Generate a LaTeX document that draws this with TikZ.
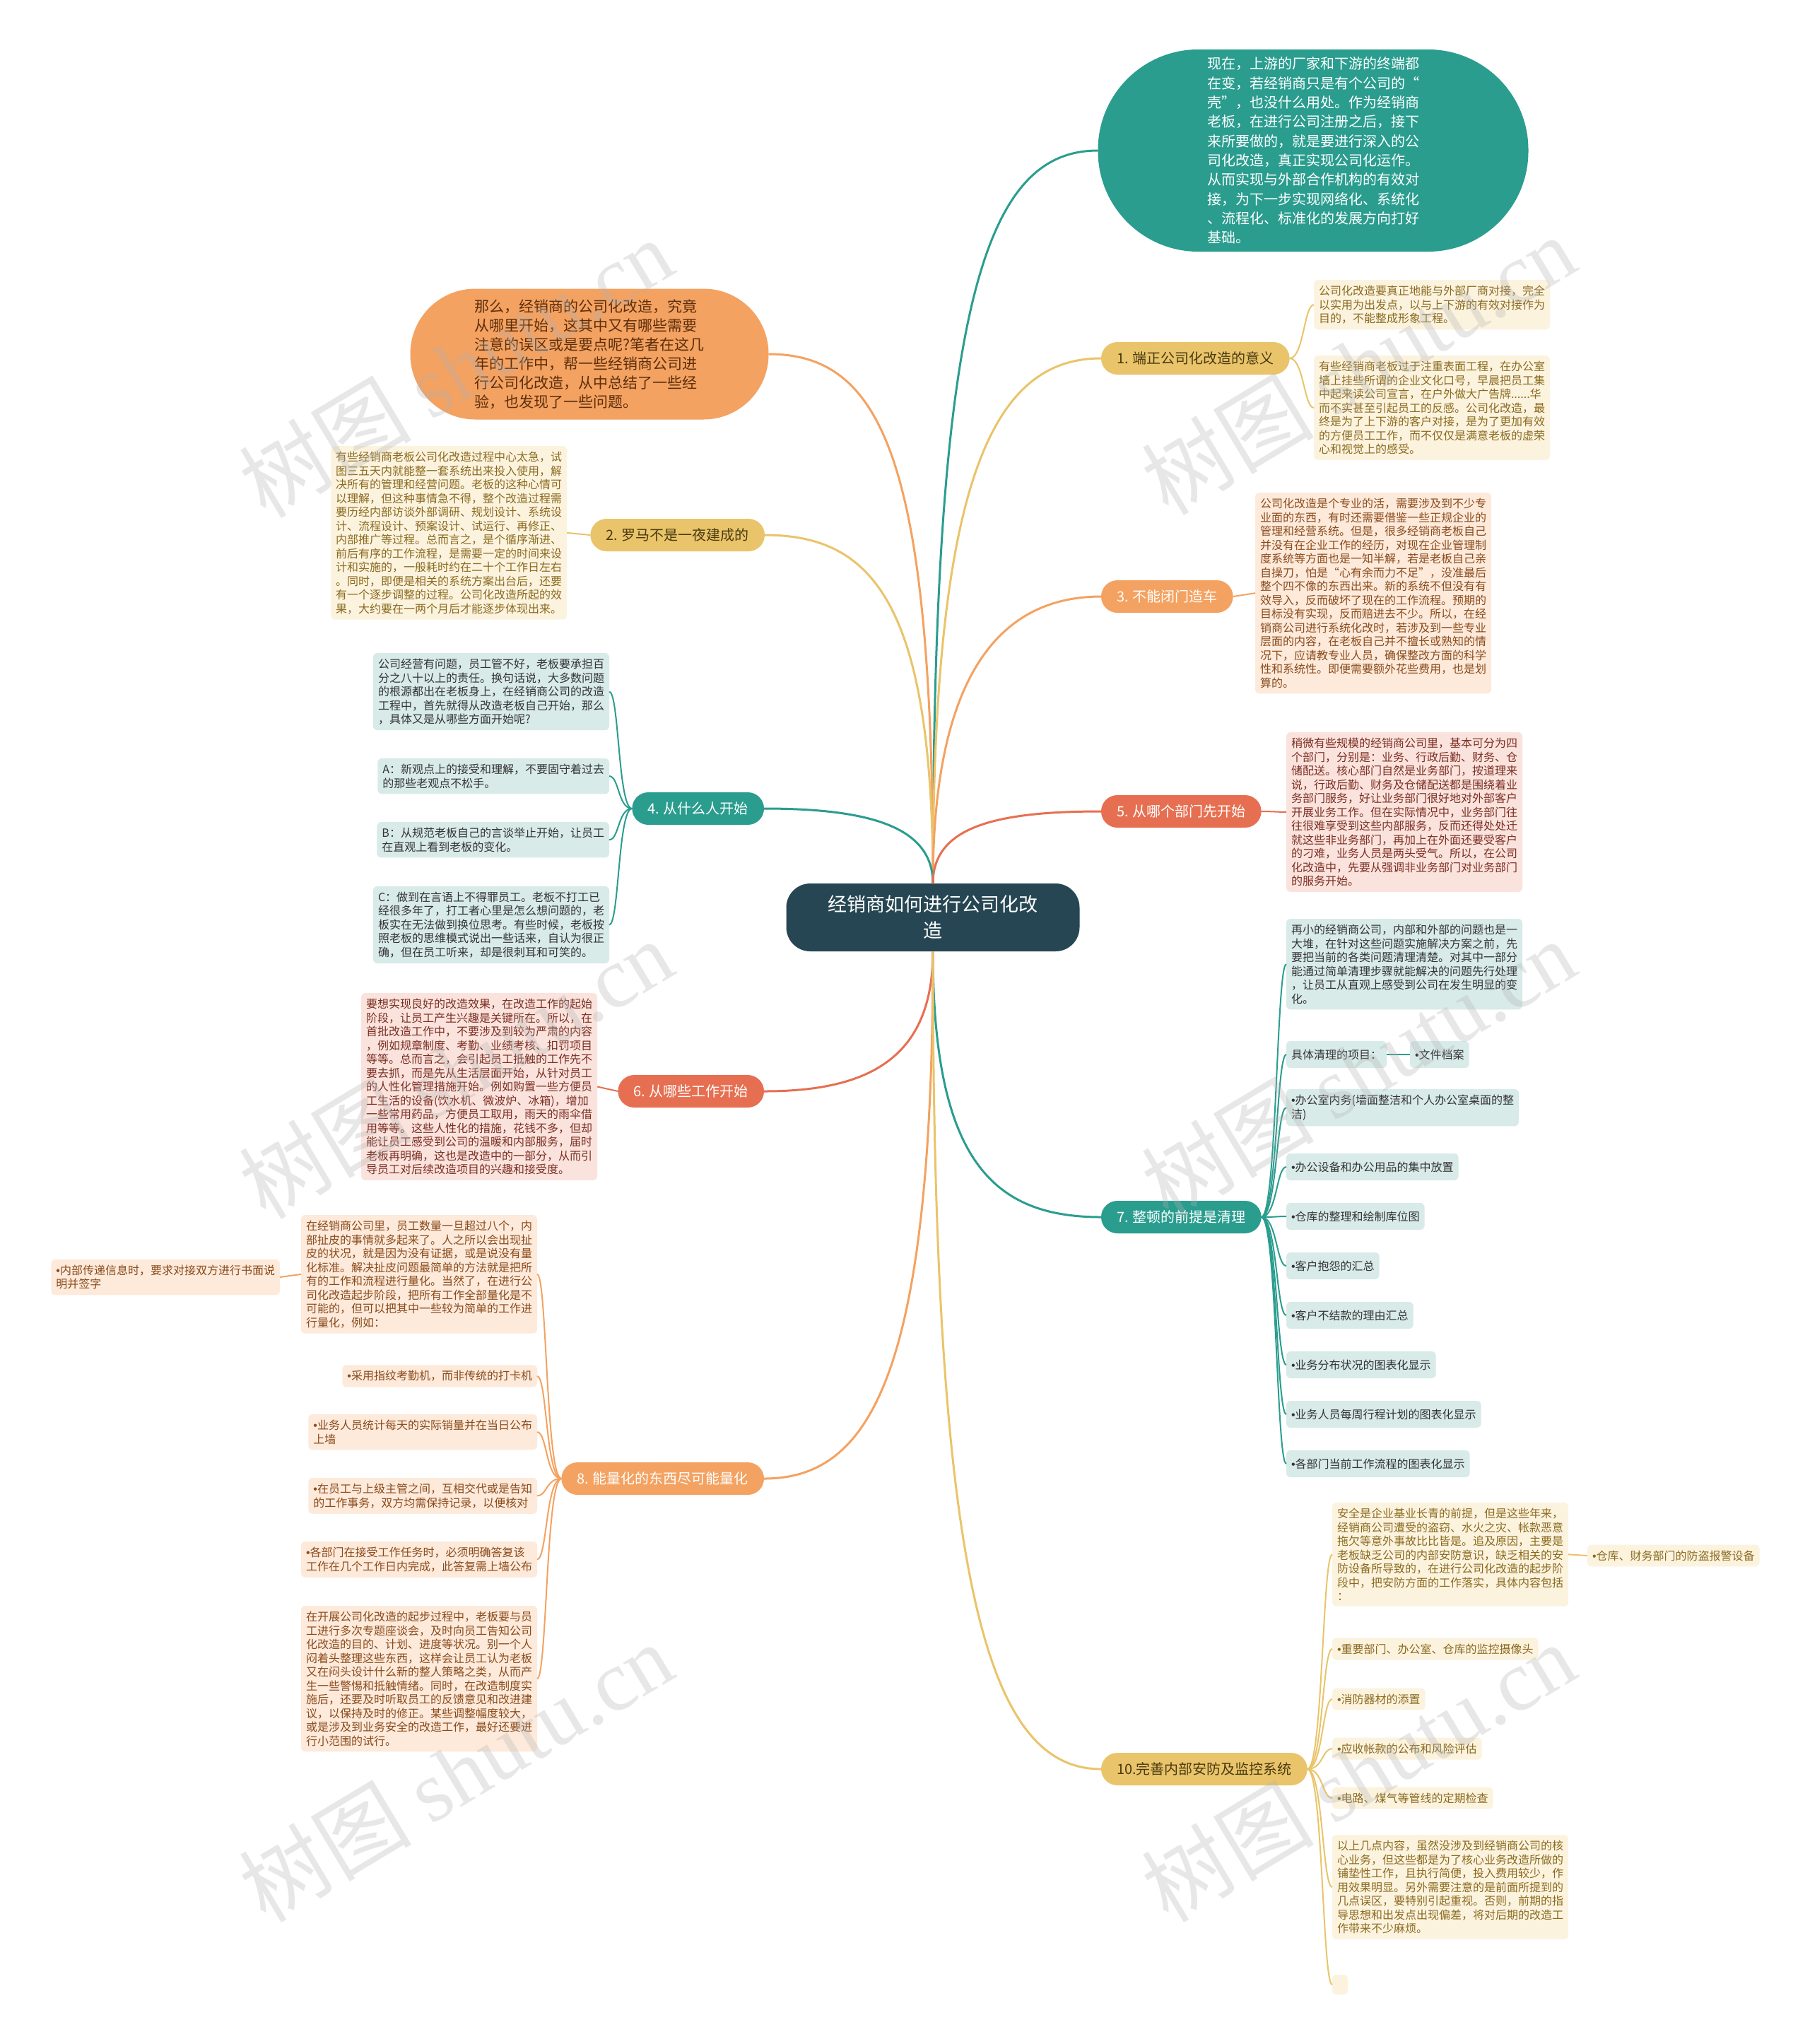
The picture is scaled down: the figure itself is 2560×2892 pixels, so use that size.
\documentclass[tikz,border=0pt]{standalone}
\usepackage{fontspec}
\setmainfont{Noto Sans CJK SC}
\newfontfamily\wmserif{Liberation Serif}
\newfontfamily\bulfont{Liberation Sans}
\newcommand{\mybul}{{\bulfont •}}
\definecolor{cteal}{HTML}{2A9D8F}
\definecolor{cyel}{HTML}{E9C46A}
\definecolor{corg}{HTML}{F4A261}
\definecolor{cred}{HTML}{E76F51}
\definecolor{cdark}{HTML}{264653}
\definecolor{fY}{HTML}{FCF3DF}
\definecolor{tY}{HTML}{8A6A1E}
\definecolor{fT}{HTML}{D8EBE8}
\definecolor{tT}{HTML}{333333}
\definecolor{fO}{HTML}{FDEADB}
\definecolor{tO}{HTML}{8A4A1A}
\definecolor{fR}{HTML}{FBE3DD}
\definecolor{tR}{HTML}{7A2E22}
\definecolor{tBY}{HTML}{4A3A10}
\definecolor{tOr}{HTML}{5C2E0B}
\begin{document}
\begin{tikzpicture}[x=1pt,y=-1pt,
  every node/.style={inner sep=0pt, outer sep=0pt},
  lf/.style={rounded corners=6pt, inner xsep=7pt, inner ysep=8pt, align=left, font=\fontsize{16}{19.5}\selectfont},
  lfY/.style={lf, fill=fY, text=tY},
  lfT/.style={lf, fill=fT, text=tT, minimum height=38pt},
  lfO/.style={lf, fill=fO, text=tO},
  lfR/.style={lf, fill=fR, text=tR},
  br/.style={rounded corners=23pt, minimum height=46pt, inner xsep=22pt, inner ysep=0pt, font=\fontsize{20}{24}\selectfont},
  brY/.style={br, fill=cyel, text=tBY},
  brO/.style={br, fill=corg, text=white},
  brT/.style={br, fill=cteal, text=white},
  brR/.style={br, fill=cred, text=white},
  mainln/.style={line width=3pt},
  subln/.style={line width=2pt},
  wm/.style={text=gray!60, opacity=0.3, font=\fontsize{122}{122}\selectfont, rotate=31}
]
\useasboundingbox[fill=white] (0,0) rectangle (2560,2892);

% center
\node[fill=cdark, text=white, rounded corners=34pt, minimum width=415pt, minimum height=96pt, align=center, font=\fontsize{27}{37}\selectfont] (C) at (1320,1298) {经销商如何进行公司化改\\造};

% top teal
\node[fill=cteal, text=white, rounded corners=142pt, minimum width=609pt, minimum height=286pt, align=left, font=\fontsize{20}{27.3}\selectfont] (T) at (1858,213) {现在，上游的厂家和下游的终端都\\在变，若经销商只是有个公司的“\\壳”，也没什么用处。作为经销商\\老板，在进行公司注册之后，接下\\来所要做的，就是要进行深入的公\\司化改造，真正实现公司化运作。\\从而实现与外部合作机构的有效对\\接，为下一步实现网络化、系统化\\、流程化、标准化的发展方向打好\\基础。};

% top orange
\node[fill=corg, text=tOr, rounded corners=92pt, minimum width=507pt, minimum height=185pt, align=left, font=\fontsize{21}{27}\selectfont] (O) at (834,501) {那么，经销商的公司化改造，究竟\\从哪里开始，这其中又有哪些需要\\注意的误区或是要点呢?笔者在这几\\年的工作中，帮一些经销商公司进\\行公司化改造，从中总结了一些经\\验，也发现了一些问题。};

% branch nodes
\node[brY, anchor=west] (B1) at (1558,507) {1. 端正公司化改造的意义};
\node[brY, anchor=east] (B2) at (1082,757) {2. 罗马不是一夜建成的};
\node[brO, anchor=west] (B3) at (1558,844) {3. 不能闭门造车};
\node[brT, anchor=east] (B4) at (1081,1144) {4. 从什么人开始};
\node[brR, anchor=west] (B5) at (1558,1148) {5. 从哪个部门先开始};
\node[brR, anchor=east] (B6) at (1081,1544) {6. 从哪些工作开始};
\node[brT, anchor=west] (B7) at (1558,1722) {7. 整顿的前提是清理};
\node[brO, anchor=east] (B8) at (1081,2092) {8. 能量化的东西尽可能量化};
\node[brY, anchor=west] (B10) at (1558,2503) {10.完善内部安防及监控系统};

% branch 1 leaves
\node[lfY, anchor=north west] (L1a) at (1859,396) {公司化改造要真正地能与外部厂商对接，完全\\以实用为出发点，以与上下游的有效对接作为\\目的，不能整成形象工程。};
\node[lfY, anchor=north west] (L1b) at (1859,503) {有些经销商老板过于注重表面工程，在办公室\\墙上挂些所谓的企业文化口号，早晨把员工集\\中起来读公司宣言，在户外做大广告牌......华\\而不实甚至引起员工的反感。公司化改造，最\\终是为了上下游的客户对接，是为了更加有效\\的方便员工工作，而不仅仅是满意老板的虚荣\\心和视觉上的感受。};

% branch 2 leaf
\node[lfY, anchor=north east] (L2) at (802,631) {有些经销商老板公司化改造过程中心太急，试\\图三五天内就能整一套系统出来投入使用，解\\决所有的管理和经营问题。老板的这种心情可\\以理解，但这种事情急不得，整个改造过程需\\要历经内部访谈外部调研、规划设计、系统设\\计、流程设计、预案设计、试运行、再修正、\\内部推广等过程。总而言之，是个循序渐进、\\前后有序的工作流程，是需要一定的时间来设\\计和实施的，一般耗时约在二十个工作日左右\\。同时，即便是相关的系统方案出台后，还要\\有一个逐步调整的过程。公司化改造所起的效\\果，大约要在一两个月后才能逐步体现出来。};

% branch 3 leaf
\node[lfO, anchor=north west] (L3) at (1776,697) {公司化改造是个专业的活，需要涉及到不少专\\业面的东西，有时还需要借鉴一些正规企业的\\管理和经营系统。但是，很多经销商老板自己\\并没有在企业工作的经历，对现在企业管理制\\度系统等方面也是一知半解，若是老板自己亲\\自操刀，怕是“心有余而力不足”，没准最后\\整个四不像的东西出来。新的系统不但没有有\\效导入，反而破坏了现在的工作流程。预期的\\目标没有实现，反而赔进去不少。所以，在经\\销商公司进行系统化改时，若涉及到一些专业\\层面的内容，在老板自己并不擅长或熟知的情\\况下，应请教专业人员，确保整改方面的科学\\性和系统性。即便需要额外花些费用，也是划\\算的。};

% branch 4 leaves
\node[lfT, anchor=north east] (L4a) at (862,924) {公司经营有问题，员工管不好，老板要承担百\\分之八十以上的责任。换句话说，大多数问题\\的根源都出在老板身上，在经销商公司的改造\\工程中，首先就得从改造老板自己开始，那么\\，具体又是从哪些方面开始呢?};
\node[lfT, anchor=north east] (L4b) at (862,1073) {A：新观点上的接受和理解，不要固守着过去\\的那些老观点不松手。};
\node[lfT, anchor=north east] (L4c) at (862,1163) {B：从规范老板自己的言谈举止开始，让员工\\在直观上看到老板的变化。};
\node[lfT, anchor=north east] (L4d) at (862,1254) {C：做到在言语上不得罪员工。老板不打工已\\经很多年了，打工者心里是怎么想问题的，老\\板实在无法做到换位思考。有些时候，老板按\\照老板的思维模式说出一些话来，自认为很正\\确，但在员工听来，却是很刺耳和可笑的。};

% branch 5 leaf
\node[lfR, anchor=north west] (L5) at (1820,1036) {稍微有些规模的经销商公司里，基本可分为四\\个部门，分别是：业务、行政后勤、财务、仓\\储配送。核心部门自然是业务部门，按道理来\\说，行政后勤、财务及仓储配送都是围绕着业\\务部门服务，好让业务部门很好地对外部客户\\开展业务工作。但在实际情况中，业务部门往\\往很难享受到这些内部服务，反而还得处处迁\\就这些非业务部门，再加上在外面还要受客户\\的刁难，业务人员是两头受气。所以，在公司\\化改造中，先要从强调非业务部门对业务部门\\的服务开始。};

% branch 6 leaf
\node[lfR, anchor=north east] (L6) at (845,1405) {要想实现良好的改造效果，在改造工作的起始\\阶段，让员工产生兴趣是关键所在。所以，在\\首批改造工作中，不要涉及到较为严肃的内容\\，例如规章制度、考勤、业绩考核、扣罚项目\\等等。总而言之，会引起员工抵触的工作先不\\要去抓，而是先从生活层面开始，从针对员工\\的人性化管理措施开始。例如购置一些方便员\\工生活的设备(饮水机、微波炉、冰箱)，增加\\一些常用药品，方便员工取用，雨天的雨伞借\\用等等。这些人性化的措施，花钱不多，但却\\能让员工感受到公司的温暖和内部服务，届时\\老板再明确，这也是改造中的一部分，从而引\\导员工对后续改造项目的兴趣和接受度。};

% branch 7 leaves
\node[lfT, anchor=north west] (L7a) at (1820,1300) {再小的经销商公司，内部和外部的问题也是一\\大堆，在针对这些问题实施解决方案之前，先\\要把当前的各类问题清理清楚。对其中一部分\\能通过简单清理步骤就能解决的问题先行处理\\，让员工从直观上感受到公司在发生明显的变\\化。};
\node[lfT, anchor=west] (L7b) at (1820,1492) {具体清理的项目：};
\node[lfT, anchor=west] (L7b2) at (1995,1492) {\mybul 文件档案};
\node[lfT, anchor=north west] (L7c) at (1820,1541) {\mybul 办公室内务(墙面整洁和个人办公室桌面的整\\洁)};
\node[lfT, anchor=west] (L7d) at (1820,1651) {\mybul 办公设备和办公用品的集中放置};
\node[lfT, anchor=west] (L7e) at (1820,1721) {\mybul 仓库的整理和绘制库位图};
\node[lfT, anchor=west] (L7f) at (1820,1791) {\mybul 客户抱怨的汇总};
\node[lfT, anchor=west] (L7g) at (1820,1861) {\mybul 客户不结款的理由汇总};
\node[lfT, anchor=west] (L7h) at (1820,1931) {\mybul 业务分布状况的图表化显示};
\node[lfT, anchor=west] (L7i) at (1820,2001) {\mybul 业务人员每周行程计划的图表化显示};
\node[lfT, anchor=west] (L7j) at (1820,2071) {\mybul 各部门当前工作流程的图表化显示};

% branch 8 leaves
\node[lfO, anchor=north east] (L8a) at (760,1719) {在经销商公司里，员工数量一旦超过八个，内\\部扯皮的事情就多起来了。人之所以会出现扯\\皮的状况，就是因为没有证据，或是说没有量\\化标准。解决扯皮问题最简单的方法就是把所\\有的工作和流程进行量化。当然了，在进行公\\司化改造起步阶段，把所有工作全部量化是不\\可能的，但可以把其中一些较为简单的工作进\\行量化，例如：};
\node[lfO, anchor=east] (L8x) at (396,1807) {\mybul 内部传递信息时，要求对接双方进行书面说\\明并签字};
\node[lfO, anchor=east] (L8b) at (760,1947) {\mybul 采用指纹考勤机，而非传统的打卡机};
\node[lfO, anchor=north east] (L8c) at (760,2001) {\mybul 业务人员统计每天的实际销量并在当日公布\\上墙};
\node[lfO, anchor=north east] (L8d) at (760,2091) {\mybul 在员工与上级主管之间，互相交代或是告知\\的工作事务，双方均需保持记录，以便核对};
\node[lfO, anchor=north east] (L8e) at (760,2181) {\mybul 各部门在接受工作任务时，必须明确答复该\\工作在几个工作日内完成，此答复需上墙公布};
\node[lfO, anchor=north east] (L8f) at (760,2272) {在开展公司化改造的起步过程中，老板要与员\\工进行多次专题座谈会，及时向员工告知公司\\化改造的目的、计划、进度等状况。别一个人\\闷着头整理这些东西，这样会让员工认为老板\\又在闷头设计什么新的整人策略之类，从而产\\生一些警惕和抵触情绪。同时，在改造制度实\\施后，还要及时听取员工的反馈意见和改进建\\议，以保持及时的修正。某些调整幅度较大，\\或是涉及到业务安全的改造工作，最好还要进\\行小范围的试行。};

% branch 10 leaves
\node[lfY, anchor=north west] (L10a) at (1885,2126) {安全是企业基业长青的前提，但是这些年来，\\经销商公司遭受的盗窃、水火之灾、帐款恶意\\拖欠等意外事故比比皆是。追及原因，主要是\\老板缺乏公司的内部安防意识，缺乏相关的安\\防设备所导致的，在进行公司化改造的起步阶\\段中，把安防方面的工作落实，具体内容包括\\：};
\node[lfY, anchor=west] (L10a2) at (2246,2201) {\mybul 仓库、财务部门的防盗报警设备};
\node[lfY, anchor=west] (L10b) at (1885,2333) {\mybul 重要部门、办公室、仓库的监控摄像头};
\node[lfY, anchor=west] (L10c) at (1885,2404) {\mybul 消防器材的添置};
\node[lfY, anchor=west] (L10d) at (1885,2474) {\mybul 应收帐款的公布和风险评估};
\node[lfY, anchor=west] (L10e) at (1885,2544) {\mybul 电路、煤气等管线的定期检查};
\node[lfY, anchor=north west] (L10f) at (1885,2596) {以上几点内容，虽然没涉及到经销商公司的核\\心业务，但这些都是为了核心业务改造所做的\\铺垫性工作，且执行简便，投入费用较少，作\\用效果明显。另外需要注意的是前面所提到的\\几点误区，要特别引起重视。否则，前期的指\\导思想和出发点出现偏差，将对后期的改造工\\作带来不少麻烦。};
\node[fill=fY, rounded corners=5pt, minimum width=22pt, minimum height=28pt, anchor=north west] (L10g) at (1885,2794) {};

% main connectors
\draw[mainln, cteal] (C.north) .. controls +(0,-820) and +(-160,0) .. (T.west);
\draw[mainln, corg] (C.north) .. controls +(0,-600) and +(160,0) .. (O.east);
\draw[mainln, cyel] (C.north) .. controls +(0,-580) and +(-150,0) .. (B1.west);
\draw[mainln, cyel] (C.north) .. controls +(0,-400) and +(150,0) .. (B2.east);
\draw[mainln, corg] (C.north) .. controls +(0,-300) and +(-140,0) .. (B3.west);
\draw[mainln, cteal] (C.north) .. controls +(0,-80) and +(150,0) .. (B4.east);
\draw[mainln, cred] (C.north) .. controls +(0,-80) and +(-150,0) .. (B5.west);
\draw[mainln, cred] (C.south) .. controls +(0,150) and +(150,0) .. (B6.east);
\draw[mainln, cteal] (C.south) .. controls +(0,300) and +(-150,0) .. (B7.west);
\draw[mainln, corg] (C.south) .. controls +(0,600) and +(150,0) .. (B8.east);
\draw[mainln, cyel] (C.south) .. controls +(0,900) and +(-160,0) .. (B10.west);

% leaf connectors
\foreach \n in {L1a,L1b} \draw[subln, cyel] (B1.east) .. controls +(20,0) and +(-14,0) .. (\n.west);
\draw[subln, cyel] (B2.west) -- (L2.east);
\draw[subln, corg] (B3.east) -- (L3.west);
\foreach \n in {L4a,L4b,L4c,L4d} \draw[subln, cteal] (B4.west) .. controls +(-20,0) and +(14,0) .. (\n.east);
\draw[subln, cred] (B5.east) .. controls +(16,0) and +(-14,0) .. (L5.west);
\draw[subln, cred] (B6.west) -- (L6.east);
\foreach \n in {L7a,L7b,L7c,L7d,L7e,L7f,L7g,L7h,L7i,L7j} \draw[subln, cteal] (B7.east) .. controls +(22,0) and +(-14,0) .. (\n.west);
\draw[subln, cteal] (L7b.east) -- (L7b2.west);
\foreach \n in {L8a,L8b,L8c,L8d,L8e,L8f} \draw[subln, corg] (B8.west) .. controls +(-22,0) and +(14,0) .. (\n.east);
\draw[subln, corg] (L8a.west) -- (L8x.east);
\foreach \n in {L10a,L10b,L10c,L10d,L10e,L10f,L10g} \draw[subln, cyel] (B10.east) .. controls +(22,0) and +(-14,0) .. (\n.west);
\draw[subln, cyel] (L10a.east) -- (L10a2.west);

% watermarks
\node[wm] (W1) at (645,520) {树图 {\wmserif shutu.cn}};
\node[wm] (W2) at (1922,516) {树图 {\wmserif shutu.cn}};
\node[wm] (W3) at (645,1512) {树图 {\wmserif shutu.cn}};
\node[wm] (W4) at (1922,1512) {树图 {\wmserif shutu.cn}};
\node[wm] (W5) at (645,2507) {树图 {\wmserif shutu.cn}};
\node[wm] (W6) at (1922,2507) {树图 {\wmserif shutu.cn}};
\end{tikzpicture}
\end{document}
